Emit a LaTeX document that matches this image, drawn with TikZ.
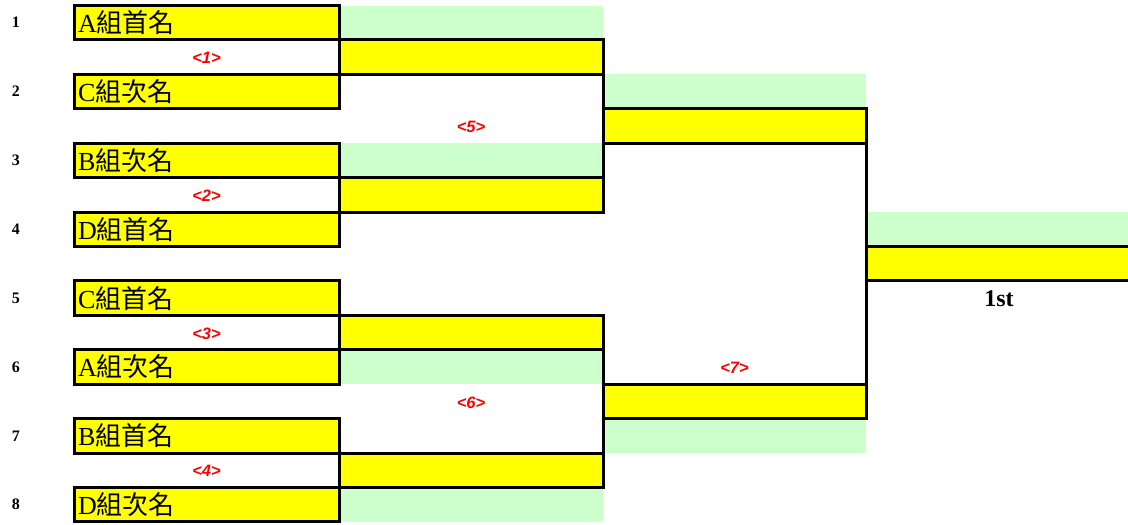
\documentclass[tikz,border=0pt]{standalone}
\usepackage{fontspec}
\setmainfont{Liberation Serif}
\setsansfont{Liberation Sans}
\newfontfamily\cjk{Noto Sans CJK TC}
\definecolor{ylw}{HTML}{FFFF00}
\definecolor{grn}{HTML}{CCFFCC}
\definecolor{lblred}{HTML}{FF0000}
\begin{document}
\begin{tikzpicture}[x=1pt,y=-1pt,
 player/.style={draw, line width=3pt, fill=ylw, anchor=north west, outer sep=0pt, minimum height=34.43pt, text width=257pt, inner xsep=4pt, inner ysep=0pt, align=left, font=\fontsize{26}{26}\selectfont},
 winbox/.style={draw, line width=3pt, fill=ylw, anchor=north west, outer sep=0pt, minimum height=34.43pt, inner sep=0pt},
 seed/.style={font=\bfseries\fontsize{16}{16}\selectfont},
 match/.style={text=lblred, font=\sffamily\bfseries\itshape\fontsize{16.5}{16.5}\selectfont},
 conn/.style={line width=3pt}]
\path[use as bounding box] (0,0) rectangle (1128,525);
% green (loser) cells
\fill[grn] (339,5.5) rectangle (603,39.93);
\fill[grn] (339,143.22) rectangle (603,177.65);
\fill[grn] (339,349.8) rectangle (603,384.23);
\fill[grn] (339,487.52) rectangle (603,521.95);
\fill[grn] (603,74.36) rectangle (866,108.79);
\fill[grn] (603,418.66) rectangle (866,453.09);
\fill[grn] (866,212.08) rectangle (1128,246.51);
% players
\node[player] (p1) at (74,5.5) {A{\cjk 組首名}};
\node[player] (p2) at (74,74.36) {C{\cjk 組次名}};
\node[player] (p3) at (74,143.22) {B{\cjk 組次名}};
\node[player] (p4) at (74,212.08) {D{\cjk 組首名}};
\node[player] (p5) at (74,280.94) {C{\cjk 組首名}};
\node[player] (p6) at (74,349.8) {A{\cjk 組次名}};
\node[player] (p7) at (74,418.66) {B{\cjk 組首名}};
\node[player] (p8) at (74,487.52) {D{\cjk 組次名}};
% winner boxes
\node[winbox, minimum width=264pt] (w1) at (339,39.93) {};
\node[winbox, minimum width=264pt] (w2) at (339,177.65) {};
\node[winbox, minimum width=264pt] (w3) at (339,315.37) {};
\node[winbox, minimum width=264pt] (w4) at (339,453.09) {};
\node[winbox, minimum width=263pt] (w5) at (603,108.79) {};
\node[winbox, minimum width=263pt] (w6) at (603,384.23) {};
\node[winbox, minimum width=266pt] (w7) at (866,246.51) {};
% connectors
\draw[conn] (w1.north east) -- (w2.south east);
\draw[conn] (w3.north east) -- (w4.south east);
\draw[conn] (w5.north east) -- (w6.south east);
% seeds
\node[seed] (s1) at (16,22.7) {1};
\node[seed] (s2) at (16,91.6) {2};
\node[seed] (s3) at (16,160.4) {3};
\node[seed] (s4) at (16,229.3) {4};
\node[seed] (s5) at (16,298.1) {5};
\node[seed] (s6) at (16,367) {6};
\node[seed] (s7) at (16,435.9) {7};
\node[seed] (s8) at (16,504.7) {8};
% match labels
\node[match] (m1) at (206.5,58) {<1>};
\node[match] (m2) at (206.5,195.5) {<2>};
\node[match] (m3) at (206.5,333.5) {<3>};
\node[match] (m4) at (206.5,471) {<4>};
\node[match] (m5) at (471,127) {<5>};
\node[match] (m6) at (471,402.5) {<6>};
\node[match] (m7) at (734.5,368) {<7>};
\node[font=\bfseries\fontsize{24}{24}\selectfont] (first) at (999,299) {1st};
\end{tikzpicture}
\end{document}
